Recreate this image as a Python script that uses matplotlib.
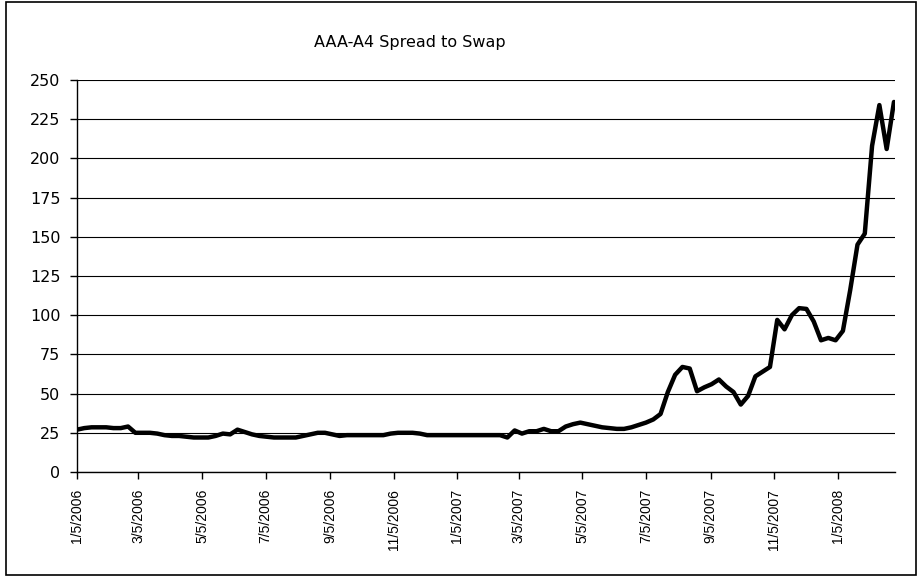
import pandas as pd
import matplotlib.pyplot as plt
from matplotlib.patches import Rectangle

# Weekly AAA-A4 spread to swap (bp), starting 1/5/2006
start_date = '2006-01-05'
spread = [
    27, 28, 28.5, 28.5, 28.5, 28, 28, 29, 25, 25,
    25, 24.5, 23.5, 23, 23, 22.5, 22, 22, 22, 23,
    24.5, 24, 27, 25.5, 24, 23, 22.5, 22, 22, 22,
    22, 23, 24, 25, 25, 24, 23, 23.5, 23.5, 23.5,
    23.5, 23.5, 23.5, 24.5, 25, 25, 25, 24.5, 23.5, 23.5,
    23.5, 23.5, 23.5, 23.5, 23.5, 23.5, 23.5, 23.5, 23.5, 22,
    26.5, 24.5, 26, 26, 27.5, 26, 26, 29, 30.5, 31.5,
    30.5, 29.5, 28.5, 28, 27.5, 27.5, 28.5, 30, 31.5, 33.5,
    37, 51, 62, 67, 66, 51.5, 54, 56, 59, 54.5,
    51, 43, 48.5, 61, 64, 67, 97, 91, 100, 104.5,
    104, 96, 84, 85.5, 84, 90, 116, 145, 152, 208,
    234, 206, 236,
]
y_ticks = list(range(0, 251, 25))
tick_dates = ['2006-01-05', '2006-03-05', '2006-05-05', '2006-07-05',
              '2006-09-05', '2006-11-05', '2007-01-05', '2007-03-05',
              '2007-05-05', '2007-07-05', '2007-09-05', '2007-11-05',
              '2008-01-05']

dates = pd.date_range(start_date, periods=len(spread), freq='7D')
ticks = pd.to_datetime(tick_dates)
tick_labels = ['{}/{}/{}'.format(d.month, d.day, d.year) for d in ticks]

fig = plt.figure(figsize=(9.22, 5.76), dpi=100)
ax = fig.add_axes([77 / 922, 1 - 472 / 576, 818 / 922, 392 / 576])

# outer chart border
fig.patches.append(Rectangle((6 / 922, 1 / 576), 910 / 922, 573 / 576,
                             transform=fig.transFigure, fill=False,
                             edgecolor='black', linewidth=1.2))

ax.plot(dates, spread, color='black', linewidth=3.2,
        solid_joinstyle='round', solid_capstyle='round', zorder=3)

ax.set_ylim(0, 250)
ax.set_yticks(y_ticks)
ax.set_xlim(pd.Timestamp(start_date), pd.Timestamp(start_date) + pd.Timedelta(days=785))
ax.set_xticks(ticks)
ax.set_xticklabels(tick_labels, rotation=90, family='Liberation Sans', fontsize=10)
for lab in ax.get_yticklabels():
    lab.set_family('DejaVu Sans')
    lab.set_fontsize(11.5)

ax.grid(axis='y', color='black', linewidth=0.8)
ax.set_axisbelow(True)
for side in ['top', 'right']:
    ax.spines[side].set_visible(False)
for side in ['left', 'bottom']:
    ax.spines[side].set_color('black')
    ax.spines[side].set_linewidth(1)
ax.tick_params(axis='y', direction='out', length=5, width=1, pad=7, colors='black')
ax.tick_params(axis='x', direction='out', length=5, width=1, pad=7, colors='black')

fig.text(410 / 922, 1 - 43 / 576, 'AAA-A4 Spread to Swap', ha='center', va='center',
         family='DejaVu Sans', fontsize=11.5)

fig.savefig('out.png', dpi=100)
